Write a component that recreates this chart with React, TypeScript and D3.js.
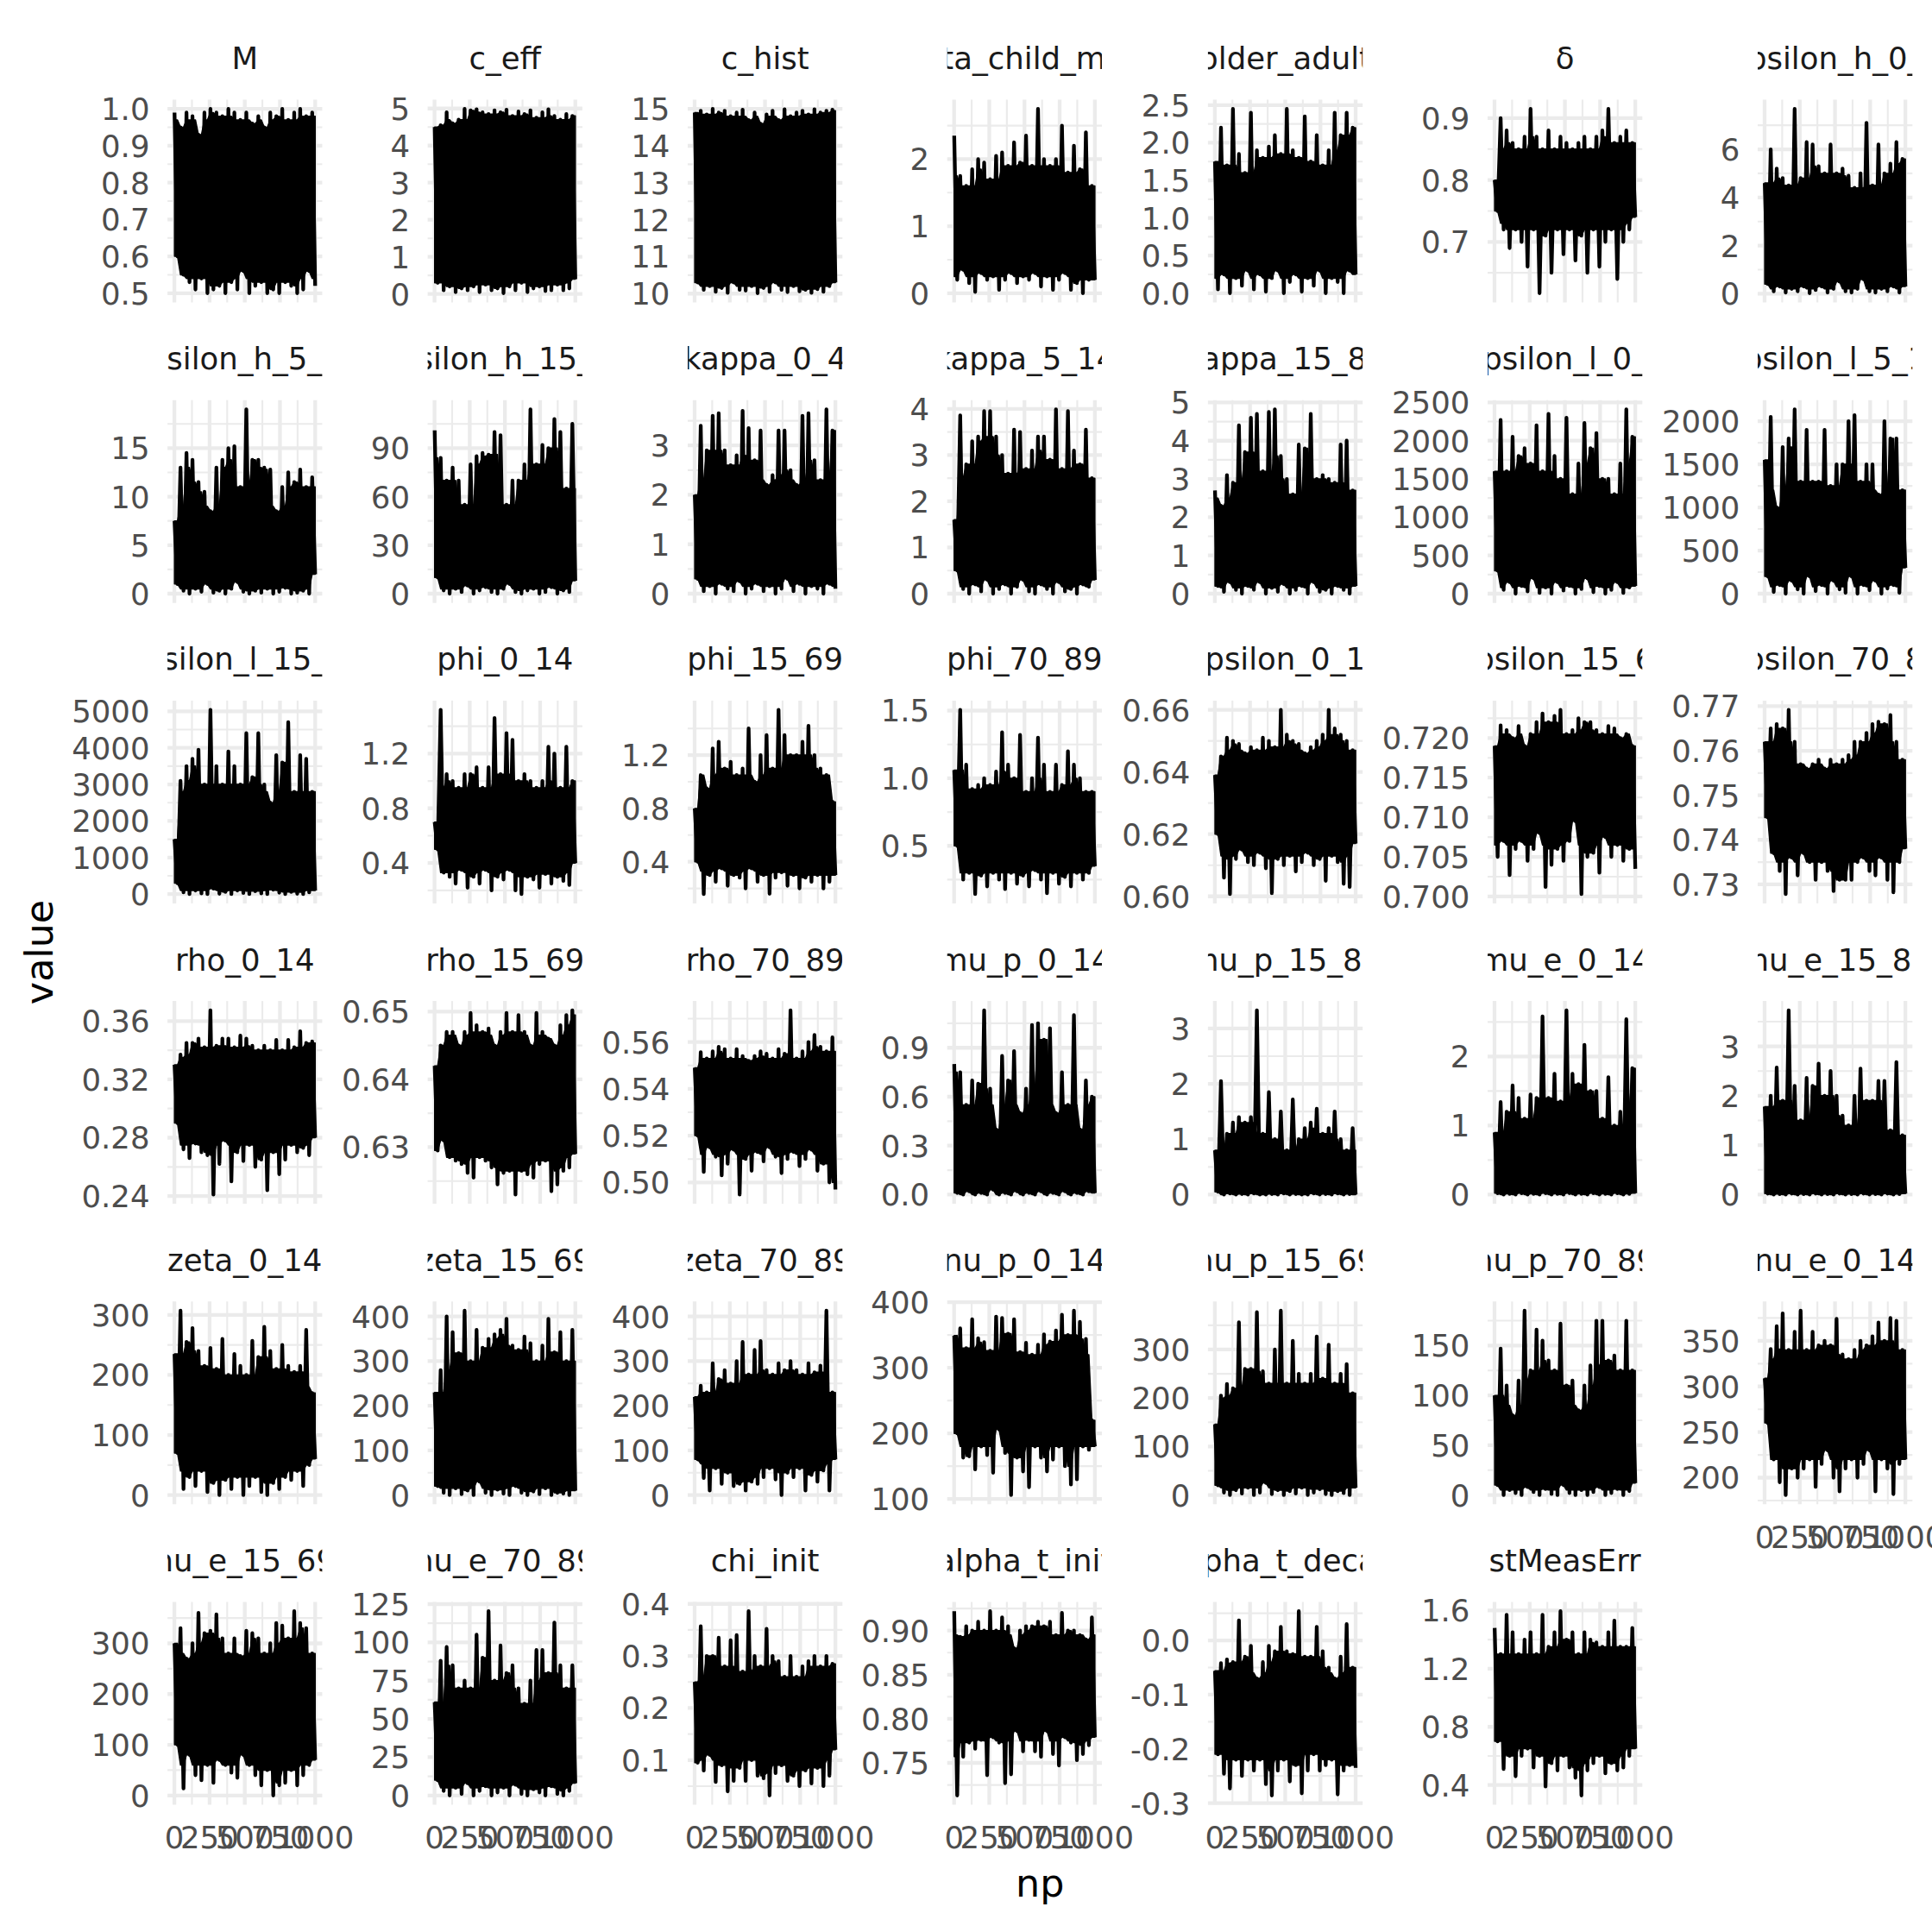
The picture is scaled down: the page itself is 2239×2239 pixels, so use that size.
import React from "react";
import * as d3 from "d3";

// ---------------- data ----------------
const panelNames = [
  "M", "c_eff", "c_hist", "beta_child_mult", "older_adult", "δ", "upsilon_h_0_4",
  "upsilon_h_5_14", "upsilon_h_15_89", "kappa_0_4", "kappa_5_14", "kappa_15_89", "upsilon_l_0_4", "upsilon_l_5_14",
  "upsilon_l_15_89", "phi_0_14", "phi_15_69", "phi_70_89", "epsilon_0_14", "epsilon_15_69", "epsilon_70_89",
  "rho_0_14", "rho_15_69", "rho_70_89", "mu_p_0_14", "mu_p_15_89", "mu_e_0_14", "mu_e_15_89",
  "zeta_0_14", "zeta_15_69", "zeta_70_89", "nu_p_0_14", "nu_p_15_69", "nu_p_70_89", "nu_e_0_14",
  "nu_e_15_69", "nu_e_70_89", "chi_init", "alpha_t_init", "alpha_t_decay", "stMeasErr",
];

const yTickLabels: string[][] = [
  ["0.5", "0.6", "0.7", "0.8", "0.9", "1.0"], ["0", "1", "2", "3", "4", "5"], ["10", "11", "12", "13", "14", "15"],
  ["0", "1", "2"], ["0.0", "0.5", "1.0", "1.5", "2.0", "2.5"], ["0.7", "0.8", "0.9"], ["0", "2", "4", "6"],
  ["0", "5", "10", "15"], ["0", "30", "60", "90"], ["0", "1", "2", "3"], ["0", "1", "2", "3", "4"],
  ["0", "1", "2", "3", "4", "5"], ["0", "500", "1000", "1500", "2000", "2500"], ["0", "500", "1000", "1500", "2000"],
  ["0", "1000", "2000", "3000", "4000", "5000"], ["0.4", "0.8", "1.2"], ["0.4", "0.8", "1.2"], ["0.5", "1.0", "1.5"],
  ["0.60", "0.62", "0.64", "0.66"], ["0.700", "0.705", "0.710", "0.715", "0.720"], ["0.73", "0.74", "0.75", "0.76", "0.77"],
  ["0.24", "0.28", "0.32", "0.36"], ["0.63", "0.64", "0.65"], ["0.50", "0.52", "0.54", "0.56"], ["0.0", "0.3", "0.6", "0.9"],
  ["0", "1", "2", "3"], ["0", "1", "2"], ["0", "1", "2", "3"],
  ["0", "100", "200", "300"], ["0", "100", "200", "300", "400"], ["0", "100", "200", "300", "400"],
  ["100", "200", "300", "400"], ["0", "100", "200", "300"], ["0", "50", "100", "150"], ["200", "250", "300", "350"],
  ["0", "100", "200", "300"], ["0", "25", "50", "75", "100", "125"], ["0.1", "0.2", "0.3", "0.4"],
  ["0.75", "0.80", "0.85", "0.90"], ["-0.3", "-0.2", "-0.1", "0.0"], ["0.4", "0.8", "1.2", "1.6"],
];

const xTickValues = [0, 250, 500, 750, 1000];
const xTickLabels = ["0", "250", "500", "750", "1000"];

// dense part of each chain (where the trace fills solidly): [low, high]
const coreBand: number[][] = [
  [0.54, 0.97], [0.3, 4.7], [10.2, 14.8], [0.25, 1.6], [0.2, 1.6], [0.73, 0.85], [0.2, 4.0],
  [0.5, 9], [3, 55], [0.15, 2.3], [0.15, 2.5], [0.15, 2.5], [80, 1300], [80, 1200],
  [100, 2800], [0.33, 0.95], [0.33, 1.05], [0.3, 0.9], [0.613, 0.647], [0.7065, 0.7205], [0.735, 0.757],
  [0.275, 0.335], [0.6285, 0.6465], [0.512, 0.553], [0.0, 0.55], [0.0, 0.8], [0.0, 0.9], [0.0, 1.2],
  [40, 180], [15, 230], [70, 230], [180, 320], [15, 200], [5, 90], [220, 330],
  [60, 280], [5, 55], [0.1, 0.26], [0.775, 0.895], [-0.21, -0.06], [0.7, 1.3],
];

// each entry: [local peak, local trough] read along the chain (np)
const tr_M = [[0.99,0.6],[0.95,0.55],[0.99,0.53],[0.98,0.51],[0.93,0.54],[0.99,0.5],[1.0,0.51],[0.99,0.52],[0.98,0.5],[1.0,0.53],[0.99,0.51],[0.97,0.56],[0.99,0.5],[0.96,0.52],[0.98,0.53],[0.95,0.5],[0.99,0.51],[0.98,0.5],[1.0,0.53],[0.97,0.52],[0.99,0.5],[1.0,0.51],[0.98,0.56],[0.99,0.52]];
const tr_c_eff = [[4.5,0.3],[4.55,0.1],[4.9,0.2],[4.6,0.05],[4.7,0.15],[4.99,0.1],[4.95,0.2],[4.98,0.05],[4.9,0.25],[4.85,0.1],[4.95,0.15],[4.9,0.02],[4.97,0.2],[4.8,0.1],[4.92,0.3],[4.85,0.05],[4.95,0.15],[4.75,0.2],[4.9,0.08],[4.98,0.1],[4.8,0.25],[4.7,0.1],[4.85,0.15],[4.8,0.4]];
const tr_c_hist = [[14.9,10.3],[14.95,10.1],[14.85,10.2],[15.0,10.05],[14.9,10.15],[14.95,10.02],[14.8,10.3],[14.9,10.1],[14.98,10.08],[14.7,10.2],[14.9,10.01],[14.6,10.15],[14.85,10.05],[14.95,10.3],[14.7,10.1],[14.99,10.04],[14.8,10.2],[14.9,10.06],[14.95,10.1],[14.85,10.02],[14.99,10.12],[14.9,10.05],[14.95,10.2],[14.98,10.3]];
const tr_beta_child = [[2.35,0.2],[1.75,0.35],[1.6,0.15],[1.85,0.02],[2.0,0.3],[1.95,0.2],[1.7,0.25],[2.05,0.05],[2.1,0.2],[1.9,0.3],[2.25,0.15],[1.95,0.25],[2.35,0.2],[1.9,0.3],[2.75,0.1],[2.0,0.25],[1.9,0.05],[2.0,0.2],[2.5,0.3],[1.8,0.05],[2.2,0.15],[1.85,0.0],[2.4,0.2],[1.6,0.2]];
const tr_older = [[1.75,0.05],[2.2,0.25],[1.7,0.0],[2.45,0.2],[1.85,0.1],[1.6,0.3],[2.4,0.05],[1.9,0.25],[1.8,0.02],[1.95,0.2],[2.1,0.3],[1.85,0.0],[2.45,0.15],[1.9,0.25],[1.8,0.02],[2.35,0.2],[1.75,0.1],[2.1,0.3],[1.7,0.0],[1.9,0.2],[2.4,0.15],[2.1,0.0],[2.4,0.3],[2.2,0.25]];
const tr_delta = [[0.8,0.75],[0.9,0.72],[0.88,0.69],[0.86,0.72],[0.85,0.7],[0.87,0.66],[0.915,0.72],[0.87,0.617],[0.85,0.71],[0.88,0.65],[0.85,0.72],[0.87,0.68],[0.86,0.72],[0.85,0.67],[0.86,0.71],[0.87,0.65],[0.85,0.72],[0.87,0.66],[0.88,0.7],[0.915,0.72],[0.86,0.64],[0.87,0.7],[0.88,0.72],[0.86,0.74]];
const tr_uh_0_4 = [[4.6,0.4],[6.0,0.1],[5.2,0.3],[4.8,0.05],[4.5,0.2],[7.68,0.1],[4.8,0.3],[6.3,0.02],[6.2,0.15],[5.3,0.3],[5.0,0.05],[6.2,0.2],[5.0,0.5],[5.2,0.1],[4.9,0.05],[4.4,0.2],[5.0,0.6],[7.1,0.1],[4.5,0.05],[6.2,0.2],[5.0,0.1],[5.4,0.3],[6.3,0.05],[5.6,0.3]];
const tr_uh_5_14 = [[7.5,1.0],[13.0,0.3],[14.5,0.0],[13.8,0.5],[11.5,0.2],[10.5,1.0],[8.5,0.1],[13.0,0.3],[13.8,0.0],[15.0,0.5],[15.2,1.2],[11.0,0.2],[19.0,0.0],[13.8,0.3],[13.8,0.1],[13.0,0.5],[12.8,0.0],[8.5,0.2],[11.0,0.6],[12.5,0.0],[11.5,0.1],[12.8,0.3],[11.0,0.0],[12.0,2.0]];
const tr_uh_15_89 = [[101,10],[84,2],[70,0],[78,3],[70,1],[55,5],[80,0],[85,2],[87,4],[86,1],[100,0],[98,3],[55,6],[70,1],[70,0],[80,2],[114,3],[80,0],[92,1],[90,4],[108,0],[100,2],[65,1],[105,8]];
const tr_k_0_4 = [[2.0,0.3],[3.4,0.05],[2.9,0.15],[3.6,0.0],[3.65,0.2],[2.9,0.1],[2.6,0.05],[2.8,0.25],[3.7,0.0],[3.35,0.1],[2.7,0.2],[3.3,0.05],[2.2,0.15],[2.4,0.0],[3.3,0.1],[3.3,0.3],[2.5,0.05],[2.2,0.2],[3.6,0.0],[3.65,0.15],[2.7,0.1],[2.3,0.0],[3.73,0.2],[3.3,0.1]];
const tr_k_5_14 = [[1.6,0.5],[3.86,0.1],[2.8,0.0],[3.3,0.2],[3.4,0.05],[3.95,0.3],[3.95,0.0],[3.4,0.1],[3.0,0.2],[2.6,0.0],[3.55,0.15],[3.5,0.3],[2.7,0.05],[3.1,0.0],[3.4,0.2],[3.4,0.1],[2.9,0.0],[3.99,0.25],[2.7,0.05],[3.95,0.1],[3.1,0.0],[2.8,0.2],[3.55,0.15],[2.5,0.3]];
const tr_k_15_89 = [[2.7,0.2],[2.3,0.05],[3.1,0.3],[2.9,0.1],[4.4,0.0],[3.7,0.2],[4.6,0.1],[4.7,0.3],[3.2,0.0],[4.75,0.15],[4.82,0.05],[3.6,0.25],[3.0,0.0],[2.6,0.1],[3.9,0.2],[3.8,0.0],[4.7,0.3],[3.0,0.05],[3.1,0.1],[3.0,0.0],[2.9,0.2],[3.9,0.1],[4.0,0.0],[2.7,0.2]];
const tr_ul_0_4 = [[1600,300],[2270,50],[1600,150],[2050,0],[1800,100],[1900,30],[1700,200],[2200,10],[1600,80],[2350,0],[1800,150],[1500,40],[2300,100],[1300,0],[1700,60],[2230,200],[1900,20],[2100,100],[1500,0],[1500,50],[1300,150],[1700,10],[2409,80],[2050,100]];
const tr_ul_5_14 = [[1550,200],[2050,20],[1000,100],[1700,0],[1800,150],[2137,50],[1300,0],[1900,200],[1300,30],[1300,100],[1900,0],[1250,150],[1500,50],[1500,10],[2000,200],[2070,0],[1300,100],[1500,40],[1500,150],[1150,0],[2000,60],[1800,100],[1800,10],[1200,300]];
const tr_ul_15_89 = [[1500,300],[3100,50],[3500,0],[3700,100],[3950,20],[3000,0],[5040,150],[3500,10],[3000,60],[3900,0],[3500,100],[3000,30],[4400,0],[3200,80],[4400,20],[3000,0],[2500,120],[3800,40],[3600,0],[4700,60],[2800,10],[3800,0],[3700,50],[2800,100]];
const tr_phi_0_14 = [[0.7,0.5],[1.52,0.33],[1.05,0.3],[1.0,0.25],[0.95,0.35],[1.05,0.22],[1.05,0.3],[1.1,0.25],[0.95,0.35],[1.1,0.2],[1.46,0.3],[1.05,0.28],[1.35,0.35],[1.3,0.2],[1.0,0.173],[1.05,0.3],[1.0,0.28],[0.95,0.22],[1.0,0.32],[1.25,0.25],[1.2,0.3],[0.95,0.27],[1.25,0.24],[1.0,0.4]];
const tr_phi_15_69 = [[0.8,0.4],[1.05,0.157],[0.95,0.3],[1.25,0.25],[1.3,0.35],[1.1,0.22],[1.15,0.3],[1.05,0.28],[1.1,0.2],[1.4,0.35],[1.0,0.25],[1.2,0.3],[1.35,0.16],[1.1,0.28],[1.54,0.32],[1.35,0.22],[1.2,0.3],[1.2,0.2],[1.3,0.28],[1.42,0.25],[1.2,0.3],[1.1,0.2],[1.05,0.25],[0.85,0.3]];
const tr_phi_70_89 = [[1.06,0.5],[1.506,0.25],[1.1,0.3],[0.92,0.143],[0.95,0.28],[1.0,0.2],[0.95,0.3],[1.05,0.25],[1.34,0.18],[1.1,0.3],[1.0,0.22],[1.32,0.28],[0.9,0.2],[1.0,0.32],[1.3,0.25],[1.1,0.15],[0.9,0.3],[1.1,0.22],[0.95,0.27],[1.2,0.2],[1.1,0.3],[1.0,0.25],[0.9,0.3],[0.9,0.35]];
const tr_eps_0_14 = [[0.639,0.62],[0.645,0.606],[0.651,0.6007],[0.65,0.612],[0.649,0.615],[0.646,0.611],[0.648,0.61],[0.647,0.614],[0.651,0.609],[0.65,0.601],[0.648,0.612],[0.66,0.61],[0.652,0.613],[0.65,0.608],[0.649,0.611],[0.646,0.614],[0.648,0.61],[0.65,0.612],[0.652,0.605],[0.66,0.613],[0.654,0.611],[0.652,0.604],[0.65,0.603],[0.647,0.617]];
const tr_eps_15_69 = [[0.719,0.705],[0.7216,0.707],[0.721,0.7027],[0.72,0.706],[0.7215,0.707],[0.719,0.7045],[0.7205,0.706],[0.722,0.708],[0.7231,0.7012],[0.722,0.704],[0.7228,0.706],[0.72356,0.7045],[0.7205,0.707],[0.721,0.7095],[0.7225,0.7003],[0.722,0.705],[0.722,0.7055],[0.721,0.703],[0.7205,0.7075],[0.7215,0.705],[0.7212,0.7065],[0.72,0.7045],[0.7205,0.706],[0.719,0.7035]];
const tr_eps_70_89 = [[0.762,0.745],[0.765,0.737],[0.766,0.733],[0.765,0.7278],[0.7692,0.736],[0.762,0.732],[0.757,0.737],[0.756,0.735],[0.757,0.731],[0.758,0.735],[0.756,0.733],[0.758,0.7285],[0.757,0.731],[0.758,0.731],[0.759,0.731],[0.762,0.735],[0.762,0.736],[0.764,0.733],[0.766,0.732],[0.7665,0.736],[0.766,0.731],[0.768,0.7282],[0.762,0.735],[0.758,0.738]];
const tr_rho_0_14 = [[0.33,0.29],[0.337,0.272],[0.345,0.266],[0.345,0.276],[0.348,0.27],[0.342,0.268],[0.3674,0.241],[0.343,0.262],[0.348,0.278],[0.348,0.25],[0.342,0.27],[0.35,0.264],[0.348,0.275],[0.343,0.26],[0.34,0.265],[0.343,0.244],[0.34,0.27],[0.347,0.255],[0.34,0.265],[0.347,0.275],[0.342,0.27],[0.353,0.273],[0.345,0.268],[0.346,0.28]];
const tr_rho_15_69 = [[0.642,0.6295],[0.645,0.631],[0.647,0.6285],[0.647,0.628],[0.645,0.6275],[0.647,0.6262],[0.6498,0.6255],[0.648,0.6285],[0.647,0.628],[0.6475,0.627],[0.645,0.6245],[0.647,0.6262],[0.6498,0.6265],[0.647,0.623],[0.6495,0.6265],[0.647,0.626],[0.645,0.6255],[0.6498,0.6275],[0.647,0.628],[0.646,0.6235],[0.645,0.6245],[0.648,0.6265],[0.6495,0.627],[0.6502,0.629]];
const tr_rho_70_89 = [[0.549,0.52],[0.5557,0.5045],[0.553,0.515],[0.556,0.511],[0.558,0.503],[0.557,0.508],[0.553,0.514],[0.557,0.4948],[0.554,0.51],[0.552,0.505],[0.554,0.513],[0.556,0.509],[0.555,0.515],[0.553,0.511],[0.557,0.504],[0.555,0.51],[0.5736,0.513],[0.553,0.507],[0.556,0.51],[0.56,0.514],[0.563,0.505],[0.558,0.508],[0.556,0.5],[0.562,0.497]];
const tr_mu_p_0_14 = [[0.8,0.01],[0.75,0.0],[0.55,0.02],[0.7,0.0],[0.68,0.01],[1.13,0.0],[0.65,0.03],[0.4,0.0],[0.85,0.01],[0.7,0.0],[0.88,0.02],[0.5,0.0],[0.65,0.01],[1.04,0.0],[1.05,0.02],[0.95,0.0],[1.02,0.01],[0.5,0.0],[0.75,0.02],[0.55,0.0],[1.1,0.01],[0.4,0.0],[0.7,0.02],[0.6,0.01]];
const tr_mu_p_15_89 = [[0.8,0.05],[2.05,0.0],[1.1,0.02],[1.3,0.0],[1.4,0.01],[1.3,0.0],[1.4,0.02],[3.33,0.0],[1.1,0.0],[1.85,0.01],[1.0,0.0],[1.5,0.02],[0.8,0.0],[1.72,0.01],[1.0,0.0],[1.2,0.0],[1.3,0.02],[1.55,0.0],[1.1,0.01],[1.2,0.0],[1.5,0.02],[1.0,0.0],[0.8,0.01],[1.2,0.0]];
const tr_mu_e_0_14 = [[0.9,0.02],[1.34,0.0],[1.2,0.01],[1.58,0.0],[1.4,0.02],[1.1,0.0],[1.45,0.01],[1.4,0.0],[2.58,0.02],[1.4,0.0],[1.75,0.01],[1.35,0.0],[2.67,0.02],[1.75,0.0],[1.6,0.01],[2.17,0.0],[1.5,0.02],[1.5,0.0],[1.1,0.01],[1.7,0.0],[1.0,0.02],[1.2,0.0],[2.54,0.01],[1.83,0.02]];
const tr_mu_e_15_89 = [[1.78,0.02],[2.0,0.0],[2.57,0.01],[1.9,0.0],[3.73,0.02],[2.2,0.0],[1.5,0.01],[2.36,0.0],[2.2,0.02],[2.65,0.0],[2.0,0.01],[2.5,0.0],[2.0,0.02],[1.6,0.0],[1.4,0.01],[2.0,0.0],[2.55,0.02],[1.9,0.0],[1.9,0.01],[2.3,0.0],[2.3,0.02],[1.3,0.0],[2.68,0.01],[1.2,0.02]];
const tr_zeta_0_14 = [[235,70],[307,10],[255,30],[278,15],[240,40],[215,5],[245,20],[210,0],[260,25],[200,10],[235,30],[215,0],[200,15],[257,30],[230,5],[280,0],[240,20],[210,10],[250,30],[215,25],[205,40],[215,15],[275,50],[170,60]];
const tr_zeta_15_69 = [[230,20],[280,5],[400,0],[365,15],[318,2],[413,10],[300,0],[370,30],[330,5],[350,0],[360,12],[370,3],[395,0],[335,20],[325,5],[355,0],[340,8],[300,2],[335,15],[395,0],[320,5],[365,3],[300,0],[370,10]];
const tr_zeta_70_89 = [[220,80],[245,38],[230,10],[295,60],[260,25],[280,50],[250,20],[300,25],[343,10],[270,30],[325,25],[345,40],[280,60],[270,35],[295,0],[280,50],[300,40],[280,60],[270,10],[295,45],[275,30],[290,55],[413,10],[230,80]];
const tr_nu_p_0_14 = [[349,200],[360,163],[330,165],[374,145],[345,180],[339,167],[326,140],[378,206],[376,170],[352,106],[374,163],[324,142],[338,118],[320,180],[335,163],[351,142],[340,160],[357,180],[381,150],[350,122],[387,130],[370,180],[344,175],[220,180]];
const tr_nu_p_15_69 = [[146,20],[205,5],[229,0],[220,10],[356,3],[260,15],[260,0],[377,5],[255,25],[230,2],[300,10],[380,0],[230,8],[318,3],[250,15],[230,0],[250,5],[327,12],[240,2],[310,0],[230,8],[250,4],[270,0],[210,15]];
const tr_nu_p_70_89 = [[100,10],[147,0],[110,5],[80,2],[115,0],[185,8],[125,3],[166,0],[155,6],[135,1],[125,0],[172,10],[110,2],[115,0],[85,5],[110,0],[130,3],[175,8],[175,0],[135,2],[140,6],[125,0],[175,4],[125,12]];
const tr_nu_e_0_14 = [[309,260],[341,220],[366,195],[380,181],[340,210],[360,200],[383,210],[340,220],[360,190],[345,215],[350,230],[345,200],[374,185],[335,210],[330,220],[340,200],[350,215],[345,230],[355,185],[370,220],[350,210],[375,182],[372,215],[340,220]];
const tr_nu_e_15_69 = [[300,100],[330,14],[270,80],[300,40],[360,30],[320,60],[325,25],[357,70],[310,60],[280,45],[310,35],[275,80],[325,60],[320,40],[310,20],[280,50],[300,0],[340,20],[335,25],[310,50],[363.5,20],[340,40],[330,60],[280,70]];
const tr_nu_e_70_89 = [[61,10],[88,3],[97,0],[85,5],[70,1],[75,8],[70,0],[105,3],[90,6],[120.4,0],[75,2],[98,5],[80,0],[85,7],[70,1],[60,0],[75,4],[95,2],[95,0],[80,6],[113,1],[85,0],[70,3],[85,8]];
const tr_chi_init = [[0.25,0.095],[0.357,0.08],[0.3,0.11],[0.3,0.058],[0.335,0.09],[0.28,0.04],[0.33,0.06],[0.34,0.085],[0.27,0.06],[0.386,0.1],[0.3,0.07],[0.28,0.065],[0.352,0.032],[0.3,0.075],[0.29,0.09],[0.26,0.06],[0.3,0.07],[0.26,0.05],[0.28,0.08],[0.29,0.055],[0.3,0.085],[0.28,0.05],[0.3,0.07],[0.285,0.12]];
const tr_alpha_t_init = [[0.922,0.713],[0.893,0.757],[0.905,0.773],[0.9,0.766],[0.91,0.776],[0.9,0.736],[0.922,0.779],[0.9,0.773],[0.915,0.727],[0.905,0.737],[0.88,0.786],[0.9,0.763],[0.905,0.776],[0.905,0.763],[0.91,0.757],[0.905,0.786],[0.91,0.76],[0.895,0.747],[0.92,0.779],[0.9,0.773],[0.9,0.753],[0.895,0.76],[0.89,0.77],[0.915,0.779]];
const tr_alpha_t_decay = [[-0.056,-0.21],[-0.042,-0.246],[-0.035,-0.273],[-0.04,-0.22],[0.037,-0.25],[-0.03,-0.22],[-0.01,-0.24],[-0.07,-0.22],[-0.04,-0.265],[-0.01,-0.286],[-0.02,-0.24],[0.025,-0.22],[-0.02,-0.26],[-0.025,-0.23],[0.054,-0.282],[-0.03,-0.24],[-0.03,-0.21],[0.025,-0.24],[-0.02,-0.23],[-0.05,-0.22],[-0.07,-0.284],[-0.03,-0.24],[0.03,-0.23],[-0.05,-0.235]];
const tr_stMeasErr = [[1.48,0.7],[1.3,0.51],[1.57,0.6],[1.45,0.46],[1.3,0.6],[1.4,0.65],[1.45,0.52],[1.3,0.6],[1.57,0.39],[1.35,0.55],[1.45,0.5],[1.595,0.6],[1.4,0.52],[1.45,0.45],[1.3,0.328],[1.45,0.5],[1.4,0.55],[1.38,0.6],[1.35,0.48],[1.45,0.55],[1.53,0.5],[1.35,0.52],[1.35,0.6],[1.48,0.65]];

const traces: number[][][] = [
  tr_M, tr_c_eff, tr_c_hist, tr_beta_child, tr_older, tr_delta, tr_uh_0_4,
  tr_uh_5_14, tr_uh_15_89, tr_k_0_4, tr_k_5_14, tr_k_15_89, tr_ul_0_4, tr_ul_5_14,
  tr_ul_15_89, tr_phi_0_14, tr_phi_15_69, tr_phi_70_89, tr_eps_0_14, tr_eps_15_69, tr_eps_70_89,
  tr_rho_0_14, tr_rho_15_69, tr_rho_70_89, tr_mu_p_0_14, tr_mu_p_15_89, tr_mu_e_0_14, tr_mu_e_15_89,
  tr_zeta_0_14, tr_zeta_15_69, tr_zeta_70_89, tr_nu_p_0_14, tr_nu_p_15_69, tr_nu_p_70_89, tr_nu_e_0_14,
  tr_nu_e_15_69, tr_nu_e_70_89, tr_chi_init, tr_alpha_t_init, tr_alpha_t_decay, tr_stMeasErr,
];

// ---------------- layout ----------------
const W = 2239;
const H = 2239;
const NCOL = 7;
const colLeft = [194.1, 495.6, 797.0, 1097.7, 1399.9, 1724.0, 2037.0];
const panelW = 179.3;
const panelH = 235;
const rowTop0 = 115.5;
const rowPitch = 348.2;
const FONT = "'DejaVu Sans', 'Noto Sans', sans-serif";
const AXIS_FS = 35.5;
const TITLE_FS = 44.4;
const LW = 4.3;
const GRID = "#EBEBEB";

function minorBreaks(b: number[], lim: [number, number]) {
  const bb = [...b];
  const bd = bb[1] - bb[0];
  if (lim[0] < bb[0]) bb.unshift(bb[0] - bd);
  if (lim[1] > bb[bb.length - 1]) bb.push(bb[bb.length - 1] + bd);
  const out: number[] = [];
  for (let k = 0; k < bb.length - 1; k++) out.push((bb[k] + bb[k + 1]) / 2);
  return out.filter((v) => v >= lim[0] && v <= lim[1]);
}

type BandPt = { x: number; lo: number; hi: number };

function Panel({ i }: { i: number }) {
  const col = i % NCOL;
  const row = Math.floor(i / NCOL);
  const x0 = colLeft[col];
  const y0 = rowTop0 + row * rowPitch;
  const entries = traces[i];
  const pts = entries.flatMap((p) => p);
  const n = pts.length;
  const xs = pts.map((_, k) => 1 + (k * 999) / (n - 1));
  const xDom: [number, number] = [1 - 0.05 * 999, 1000 + 0.05 * 999];
  const xScale = d3.scaleLinear().domain(xDom).range([x0, x0 + panelW]);
  const [mn, mx] = d3.extent(pts) as [number, number];
  const pad = (mx - mn) * 0.05;
  const yDom: [number, number] = [mn - pad, mx + pad];
  const yScale = d3.scaleLinear().domain(yDom).range([y0 + panelH, y0]);
  const line = d3
    .line<number>()
    .x((_, k) => xScale(xs[k]))
    .y((v) => yScale(v));

  // densely filled part of the trace: at least the chain's core band, and
  // wider wherever neighbouring peaks / troughs all reach further out
  const [cLo, cHi] = coreBand[i];
  const m = entries.length;
  const bandPts: BandPt[] = [];
  entries.forEach((e, j) => {
    const nb = [entries[Math.max(0, j - 1)], e, entries[Math.min(m - 1, j + 1)]];
    const minPeak = Math.min(...nb.map((q) => q[0]));
    const maxTrough = Math.max(...nb.map((q) => q[1]));
    const top = Math.max(Math.min(e[0], cHi), minPeak);
    const bot = Math.min(Math.max(e[1], cLo), maxTrough);
    const hi = Math.max(top, bot);
    bandPts.push({ x: xs[2 * j], lo: bot, hi });
    bandPts.push({ x: xs[2 * j + 1], lo: bot, hi });
  });
  const area = d3
    .area<BandPt>()
    .x((d) => xScale(d.x))
    .y0((d) => yScale(d.lo))
    .y1((d) => yScale(d.hi));

  const yLabs = yTickLabels[i];
  const yVals = yLabs.map((s) => parseFloat(s));
  const yMinor = minorBreaks(yVals, yDom);
  const xMinor = minorBreaks(xTickValues, xDom);
  const showX = i + NCOL >= traces.length;
  const clipId = `strip-clip-${i}`;

  return (
    <g>
      {yMinor.map((v, k) => (
        <line key={`ym${k}`} x1={x0} x2={x0 + panelW} y1={yScale(v)} y2={yScale(v)} stroke={GRID} strokeWidth={LW / 2} />
      ))}
      {xMinor.map((v, k) => (
        <line key={`xm${k}`} x1={xScale(v)} x2={xScale(v)} y1={y0} y2={y0 + panelH} stroke={GRID} strokeWidth={LW / 2} />
      ))}
      {yVals.map((v, k) => (
        <line key={`yM${k}`} x1={x0} x2={x0 + panelW} y1={yScale(v)} y2={yScale(v)} stroke={GRID} strokeWidth={LW} />
      ))}
      {xTickValues.map((v, k) => (
        <line key={`xM${k}`} x1={xScale(v)} x2={xScale(v)} y1={y0} y2={y0 + panelH} stroke={GRID} strokeWidth={LW} />
      ))}
      <path d={area(bandPts) || ""} fill="#000" stroke="#000" strokeWidth={1.5} strokeLinejoin="round" />
      <path d={line(pts) || ""} fill="none" stroke="#000" strokeWidth={LW} strokeLinejoin="round" strokeLinecap="butt" />
      {yVals.map((v, k) => (
        <text key={`yl${k}`} x={x0 - 20.6} y={yScale(v)} dy="0.365em" textAnchor="end" fontSize={AXIS_FS} fill="#4D4D4D" fontFamily={FONT}>
          {yLabs[k]}
        </text>
      ))}
      {showX &&
        xTickValues.map((v, k) => (
          <text key={`xl${k}`} x={xScale(v)} y={y0 + panelH + 50.4} textAnchor="middle" fontSize={AXIS_FS} fill="#4D4D4D" fontFamily={FONT}>
            {xTickLabels[k]}
          </text>
        ))}
      <clipPath id={clipId}>
        <rect x={x0} y={y0 - 90} width={panelW} height={90} />
      </clipPath>
      <text x={x0 + panelW / 2} y={y0 - 35.5} textAnchor="middle" fontSize={AXIS_FS} fill="#1A1A1A" fontFamily={FONT} clipPath={`url(#${clipId})`}>
        {panelNames[i]}
      </text>
    </g>
  );
}

export default function App() {
  const plotCenterX = (colLeft[0] + colLeft[NCOL - 1] + panelW) / 2;
  const plotCenterY = (rowTop0 + rowTop0 + 5 * rowPitch + panelH) / 2;
  return (
    <svg width={W} height={H} viewBox={`0 0 ${W} ${H}`} style={{ position: "absolute", left: 0, top: 0, background: "#fff" }}>
      <rect x={0} y={0} width={W} height={H} fill="#fff" />
      {traces.map((_, i) => (
        <Panel key={i} i={i} />
      ))}
      <text x={plotCenterX} y={2198} textAnchor="middle" fontSize={TITLE_FS} fill="#000" fontFamily={FONT}>
        np
      </text>
      <text transform={`translate(61,${plotCenterY}) rotate(-90)`} textAnchor="middle" fontSize={TITLE_FS} fill="#000" fontFamily={FONT}>
        value
      </text>
    </svg>
  );
}
